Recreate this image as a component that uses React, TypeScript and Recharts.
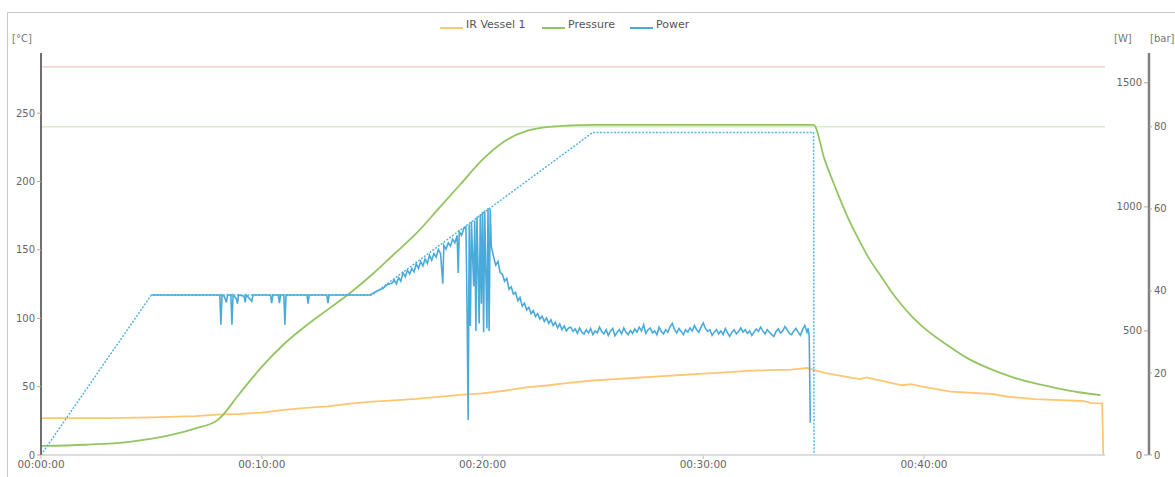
import { LineChart, Line, XAxis, YAxis, ReferenceLine } from "recharts";

// minutes since start -> value
const timeTicks = [0, 10, 20, 30, 40];
const tempTicks = [0, 50, 100, 150, 200, 250];
const powerTicks = [0, 500, 1000, 1500];
const pressureTicks = [0, 20, 40, 60, 80];

const tempLimit = 284; // °C
const pressureLimit = 80; // bar

const irVessel1: [number, number][] = [
  [0, 27], [3, 27], [5, 27.5], [7, 28.5], [8, 29.5], [9, 30], [10, 31], [11, 33],
  [12, 34.5], [13, 35.5], [14, 37.5], [15, 39], [16, 40], [17, 41], [18, 42.5],
  [19, 44], [20, 45], [21, 47], [22, 49.5], [23, 51], [24, 53], [25, 54.5],
  [26, 55.5], [27, 56.5], [28, 57.5], [29, 58.5], [30, 59.5], [31, 60.5],
  [32, 61.5], [33, 62], [34, 62.5], [34.7, 63.6], [35.5, 60], [36.3, 57.7],
  [37.1, 55.5], [37.4, 56.7], [38, 54.5], [39, 51], [39.4, 51.8], [39.8, 50.4],
  [41.2, 46.3], [43.1, 44.6], [43.8, 42.6], [45, 40.9], [47.2, 39.5], [47.6, 38],
  [48.07, 37.8], [48.1, 18], [48.12, 0],
];

const pressure: [number, number][] = [
  [0, 2.2], [2, 2.5], [4, 3.2], [6, 5], [7, 6.5], [8, 8.5], [9, 15], [10, 21.5],
  [11, 27], [12, 31.5], [13, 35.5], [14, 39.5], [15, 44], [16, 49], [17, 54],
  [18, 60], [19, 66], [20, 72], [21, 76.5], [22, 79], [23, 80], [25, 80.5],
  [30, 80.5], [35, 80.5], [35.5, 72], [36, 65], [36.5, 58.5], [37, 53],
  [37.5, 48], [38, 44], [38.5, 40], [39, 36.5], [39.5, 33.5], [40, 31], [41, 27],
  [42, 23.5], [43, 21], [44, 19], [45, 17.5], [46, 16.3], [47, 15.3], [48, 14.6],
];

const power: [number, number][] = [
  [5, 645], [8.1, 645], [8.15, 525], [8.2, 645], [8.3, 640], [8.4, 615], [8.45, 645],
  [8.6, 645], [8.65, 525], [8.7, 645], [8.85, 630], [8.9, 610], [8.95, 645],
  [9.2, 640], [9.25, 615], [9.3, 645], [9.55, 620], [9.6, 645], [10.4, 645],
  [10.45, 612], [10.5, 645], [10.75, 645], [10.8, 612], [10.85, 645], [11.0, 645],
  [11.05, 525], [11.1, 645], [12.05, 645], [12.1, 610], [12.15, 645], [12.95, 645],
  [13.0, 612], [13.05, 645], [14.9, 645],
  [15.2, 660], [15.5, 672], [15.7, 688], [15.9, 692], [16.0, 705], [16.1, 690],
  [16.2, 715], [16.3, 700], [16.4, 734], [16.5, 718], [16.6, 745], [16.7, 730],
  [16.8, 752], [16.9, 738], [17.0, 770], [17.1, 752], [17.2, 780], [17.3, 762],
  [17.4, 790], [17.5, 772], [17.6, 805], [17.7, 785], [17.8, 812], [17.9, 798],
  [18.0, 828], [18.1, 812], [18.2, 690], [18.25, 845], [18.35, 830], [18.45, 855],
  [18.55, 842], [18.65, 870], [18.75, 855], [18.85, 885], [18.9, 734], [18.95, 900],
  [19.05, 885], [19.15, 912], [19.25, 920], [19.3, 600], [19.35, 141],
  [19.4, 930], [19.45, 520], [19.5, 940], [19.6, 680], [19.65, 945], [19.7, 500],
  [19.75, 960], [19.85, 530], [19.9, 970], [19.95, 610], [20.0, 980], [20.05, 495],
  [20.1, 985], [20.2, 510], [20.25, 995], [20.3, 500], [20.35, 990], [20.4, 840],
  [20.5, 800], [20.6, 765], [20.7, 780], [20.8, 735], [20.9, 728], [21.0, 700],
  [21.1, 712], [21.2, 668], [21.3, 678], [21.4, 648], [21.5, 655], [21.6, 622],
  [21.7, 635], [21.8, 600], [21.9, 612], [22.0, 585], [22.1, 595], [22.2, 570],
  [22.3, 582], [22.4, 558], [22.5, 570], [22.6, 548], [22.7, 560], [22.8, 538],
  [22.9, 552], [23.0, 530], [23.1, 545], [23.2, 522], [23.3, 535], [23.4, 512],
  [23.5, 528], [23.6, 505], [23.7, 520], [23.8, 500], [23.9, 512],
  [24.0, 515], [24.1, 498], [24.2, 508], [24.3, 490], [24.4, 512], [24.5, 495],
  [24.6, 488], [24.7, 505], [24.8, 492], [24.9, 510], [25.0, 485], [25.1, 500],
  [25.2, 492], [25.3, 515], [25.4, 498], [25.5, 488], [25.6, 505], [25.7, 482],
  [25.8, 500], [25.9, 510], [26.0, 480], [26.1, 495], [26.2, 505], [26.3, 488],
  [26.4, 512], [26.5, 495], [26.6, 485], [26.7, 502], [26.8, 490], [26.9, 508],
  [27.0, 495], [27.1, 515], [27.2, 500], [27.3, 525], [27.4, 490], [27.5, 505],
  [27.6, 512], [27.7, 492], [27.8, 500], [27.9, 485], [28.0, 515], [28.1, 498],
  [28.2, 488], [28.3, 505], [28.4, 495], [28.5, 518], [28.6, 530], [28.7, 505],
  [28.8, 492], [28.9, 510], [29.0, 498], [29.1, 485], [29.2, 505], [29.3, 495],
  [29.4, 512], [29.5, 500], [29.6, 522], [29.7, 505], [29.8, 495], [29.9, 515],
  [30.0, 532], [30.1, 510], [30.2, 498], [30.3, 505], [30.4, 482], [30.5, 495],
  [30.6, 505], [30.7, 488], [30.8, 500], [30.9, 485], [31.0, 510], [31.1, 492],
  [31.2, 478], [31.3, 495], [31.4, 505], [31.5, 488], [31.6, 498], [31.7, 512],
  [31.8, 495], [31.9, 505], [32.0, 490], [32.1, 500], [32.2, 482], [32.3, 495],
  [32.4, 508], [32.5, 498], [32.6, 515], [32.7, 500], [32.8, 488], [32.9, 505],
  [33.0, 495], [33.1, 485], [33.2, 478], [33.3, 498], [33.4, 508], [33.5, 492],
  [33.6, 500], [33.7, 518], [33.8, 505], [33.9, 490], [34.0, 485], [34.1, 500],
  [34.2, 510], [34.3, 495], [34.4, 482], [34.5, 505], [34.6, 522], [34.7, 495],
  [34.75, 510], [34.8, 478], [34.85, 130],
];

// power ramp / limit, drawn dotted
const powerSetpoint: [number, number][] = [
  [0, 0], [5, 645], [15, 645], [25, 1300], [35, 1300], [35.02, 0],
];

const legendItems = [
  { name: "IR Vessel 1", color: "#fdc772", x: 440 },
  { name: "Pressure", color: "#93c562", x: 542 },
  { name: "Power", color: "#4aaad9", x: 630 },
];

const rows = (pairs: [number, number][]) => pairs.map(([t, v]) => ({ t, v }));

const pad = (n: number) => String(n).padStart(2, "0");
const fmtTime = (m: number) => `${pad(Math.floor(m / 60))}:${pad(m % 60)}:00`;

const tickStyle = { fill: "#666", fontSize: 10 };

function WattTick({ y, payload }: any) {
  return (
    <g>
      <line x1={1144} x2={1148} y1={y} y2={y} stroke="#aaa" />
      <text x={1142} y={y} dy={3.5} textAnchor="end" fill="#666" fontSize={10}>
        {payload.value}
      </text>
    </g>
  );
}

const unitStyle: React.CSSProperties = {
  position: "absolute",
  top: 33,
  fontSize: 10,
  color: "#777",
};

export default function App() {
  return (
    <div
      style={{
        position: "absolute",
        left: 0,
        top: 0,
        width: 1175,
        height: 477,
        overflow: "hidden",
        background: "#fff",
        fontFamily: "'DejaVu Sans', sans-serif",
      }}
    >
      <div
        style={{
          position: "absolute",
          left: 7,
          top: 12,
          width: 1200,
          height: 500,
          borderTop: "1px solid #c9c9c9",
          borderLeft: "1px solid #c9c9c9",
        }}
      />
      {legendItems.map((it) => (
        <div
          key={it.name}
          style={{ position: "absolute", left: it.x, top: 18, display: "flex", alignItems: "flex-end", fontSize: 11, color: "#555" }}
        >
          <span style={{ display: "inline-block", width: 23, height: 2, background: it.color, marginRight: 3, marginBottom: 2 }} />
          <span>{it.name}</span>
        </div>
      ))}
      <div style={{ ...unitStyle, left: 12 }}>[°C]</div>
      <div style={{ ...unitStyle, left: 1114 }}>[W]</div>
      <div style={{ ...unitStyle, left: 1150 }}>[bar]</div>
      <LineChart
        width={1175}
        height={477}
        margin={{ top: 53, right: 0, bottom: 0, left: 0 }}
        style={{ position: "absolute", left: 0, top: 0, fontFamily: "'DejaVu Sans', sans-serif" }}
      >
        <XAxis
          type="number"
          dataKey="t"
          domain={[0, 48.2]}
          ticks={timeTicks}
          tickFormatter={fmtTime}
          height={22}
          stroke="#d2d2d2"
          strokeWidth={1.5}
          tickSize={4}
          tickMargin={2}
          tick={{ fill: "#666", fontSize: 10.5 }}
        />
        <YAxis
          yAxisId="temp"
          orientation="left"
          width={41}
          domain={[0, 294]}
          ticks={tempTicks}
          allowDataOverflow
          axisLine={{ stroke: "#6e6e6e", strokeWidth: 2 }}
          tickLine={{ stroke: "#aaa" }}
          tickSize={4}
          tickMargin={2}
          tick={tickStyle}
        />
        <YAxis
          yAxisId="power"
          orientation="right"
          width={44}
          domain={[0, 1620]}
          ticks={powerTicks}
          allowDataOverflow
          axisLine={false}
          tickLine={false}
          tick={<WattTick />}
        />
        <YAxis
          yAxisId="pressure"
          orientation="right"
          width={26}
          domain={[0, 98]}
          ticks={pressureTicks}
          allowDataOverflow
          axisLine={{ stroke: "#808080", strokeWidth: 2.5 }}
          tickLine={{ stroke: "#aaa" }}
          tickSize={3}
          tickMargin={2}
          tick={tickStyle}
        />
        <ReferenceLine yAxisId="temp" y={tempLimit} stroke="#f4d2d2" strokeWidth={1.5} />
        <ReferenceLine yAxisId="pressure" y={pressureLimit} stroke="#d9ecc8" strokeWidth={1.5} />
        <Line
          yAxisId="temp"
          data={rows(irVessel1)}
          dataKey="v"
          name="IR Vessel 1"
          stroke="#fdc772"
          strokeWidth={1.8}
          dot={false}
          isAnimationActive={false}
        />
        <Line
          yAxisId="pressure"
          type="monotone"
          data={rows(pressure)}
          dataKey="v"
          name="Pressure"
          stroke="#93c562"
          strokeWidth={1.8}
          dot={false}
          isAnimationActive={false}
        />
        <Line
          yAxisId="power"
          data={rows(powerSetpoint)}
          dataKey="v"
          name="Power setpoint"
          stroke="#55b4e2"
          strokeWidth={1.5}
          strokeDasharray="2 1.5"
          dot={false}
          isAnimationActive={false}
        />
        <Line
          yAxisId="power"
          data={rows(power)}
          dataKey="v"
          name="Power"
          stroke="#4aaad9"
          strokeWidth={1.6}
          dot={false}
          isAnimationActive={false}
        />
      </LineChart>
    </div>
  );
}
